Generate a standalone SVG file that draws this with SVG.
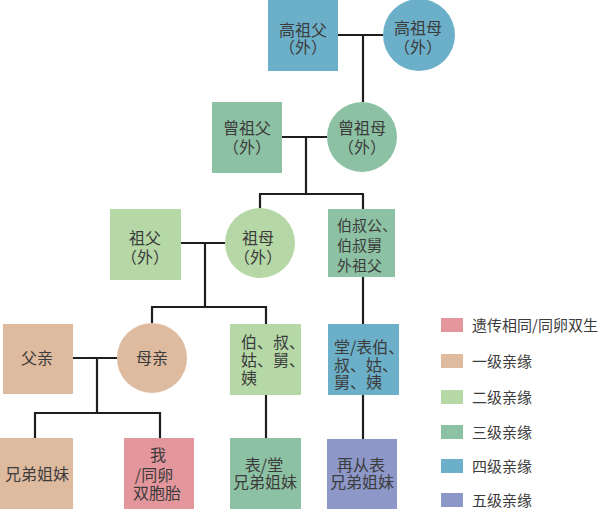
<svg xmlns="http://www.w3.org/2000/svg" width="607" height="509" viewBox="0 0 607 509">
<style>
text{font-family:"Noto Sans CJK SC","Noto Sans",sans-serif;font-size:16px;fill:#3c3c3c}
.c{text-anchor:middle}
.l{font-size:15px}
.conn line{stroke:#1e1e1e;stroke-width:2.2}
.g4{fill:#6cafc8}.g3{fill:#8dc1a3}.g2{fill:#b6d8a7}.g1{fill:#deba9f}.g0{fill:#e3969b}.g5{fill:#8d97c8}
</style>
<rect width="607" height="509" fill="#ffffff"/>
<g class="conn">
<line x1="338" y1="35" x2="383" y2="35"/>
<line x1="363" y1="35" x2="363" y2="102"/>
<line x1="282" y1="137" x2="327" y2="137"/>
<line x1="306" y1="137" x2="306" y2="194"/>
<line x1="259" y1="194" x2="364" y2="194"/>
<line x1="260" y1="194" x2="260" y2="208"/>
<line x1="363" y1="194" x2="363" y2="209"/>
<line x1="181" y1="243" x2="225" y2="243"/>
<line x1="205" y1="243" x2="205" y2="307"/>
<line x1="151" y1="307" x2="267" y2="307"/>
<line x1="152" y1="307" x2="152" y2="323"/>
<line x1="266" y1="307" x2="266" y2="324"/>
<line x1="363" y1="277" x2="363" y2="324"/>
<line x1="73" y1="358" x2="117" y2="358"/>
<line x1="97" y1="358" x2="97" y2="413"/>
<line x1="34" y1="413" x2="161" y2="413"/>
<line x1="35" y1="413" x2="35" y2="438"/>
<line x1="160" y1="413" x2="160" y2="438"/>
<line x1="266" y1="395" x2="266" y2="438"/>
<line x1="363" y1="395" x2="363" y2="439"/>
</g>
<g id="gaozufu"><rect class="g4" x="268" y="-1" width="70" height="72"/><text class="c" x="303" y="36">高祖父</text><text class="c" x="303" y="53">（外）</text></g>
<g id="gaozumu"><circle class="g4" cx="419" cy="35" r="36"/><text class="c" x="418" y="34">高祖母</text><text class="c" x="418" y="53">（外）</text></g>
<g id="zengzufu"><rect class="g3" x="212" y="102" width="70" height="71"/><text class="c" x="247" y="134">曾祖父</text><text class="c" x="247" y="153">（外）</text></g>
<g id="zengzumu"><circle class="g3" cx="362" cy="137" r="35"/><text class="c" x="362" y="134">曾祖母</text><text class="c" x="362" y="153">（外）</text></g>
<g id="zufu"><rect class="g2" x="110" y="209" width="71" height="71"/><text class="c" x="145" y="244">祖父</text><text class="c" x="145" y="263">（外）</text></g>
<g id="zumu"><circle class="g2" cx="260" cy="243" r="35"/><text class="c" x="258" y="244">祖母</text><text class="c" x="258" y="263">（外）</text></g>
<g id="boshugong"><rect class="g3" x="328" y="209" width="67" height="68"/><text class="l" x="337" y="231">伯叔公、</text><text class="l" x="337" y="251">伯叔舅</text><text class="l" x="337" y="271">外祖父</text></g>
<g id="fuqin"><rect class="g1" x="3" y="324" width="70" height="70"/><text class="c" x="37" y="364">父亲</text></g>
<g id="muqin"><circle class="g1" cx="152" cy="358" r="35"/><text class="c" x="152" y="364">母亲</text></g>
<g id="boshu"><rect class="g2" x="230" y="324" width="71" height="71"/><text x="241" y="348">伯、叔、</text><text x="241" y="366">姑、舅、</text><text x="241" y="384">姨</text></g>
<g id="tangbiaobo"><rect class="g4" x="328" y="324" width="71" height="71"/><text x="334" y="353">堂/表伯、</text><text x="334" y="371">叔、姑、</text><text x="334" y="388">舅、姨</text></g>
<g id="xiongdi"><rect class="g1" x="0" y="438" width="73" height="72"/><text class="c" x="37" y="480">兄弟姐妹</text></g>
<g id="wo"><rect class="g0" x="124" y="438" width="70" height="72"/><text class="c" x="158" y="461">我</text><text class="c" x="154" y="481">/同卵</text><text class="c" x="157" y="499">双胞胎</text></g>
<g id="biaotang"><rect class="g3" x="230" y="438" width="71" height="72"/><text class="c" x="264" y="471">表/堂</text><text class="c" x="265" y="488">兄弟姐妹</text></g>
<g id="zaicong"><rect class="g5" x="327" y="439" width="70" height="71"/><text class="c" x="361" y="471">再从表</text><text class="c" x="362" y="488">兄弟姐妹</text></g>
<g id="legend">
<rect class="g0" x="441" y="318" width="22" height="14"/><text class="l" x="472" y="331">遗传相同/同卵双生</text>
<rect class="g1" x="441" y="354" width="22" height="14"/><text class="l" x="472" y="367">一级亲缘</text>
<rect class="g2" x="441" y="390" width="22" height="14"/><text class="l" x="472" y="403">二级亲缘</text>
<rect class="g3" x="441" y="425" width="22" height="14"/><text class="l" x="472" y="438">三级亲缘</text>
<rect class="g4" x="441" y="459" width="22" height="14"/><text class="l" x="472" y="472">四级亲缘</text>
<rect class="g5" x="441" y="493" width="22" height="14"/><text class="l" x="472" y="506">五级亲缘</text>
</g>
</svg>
